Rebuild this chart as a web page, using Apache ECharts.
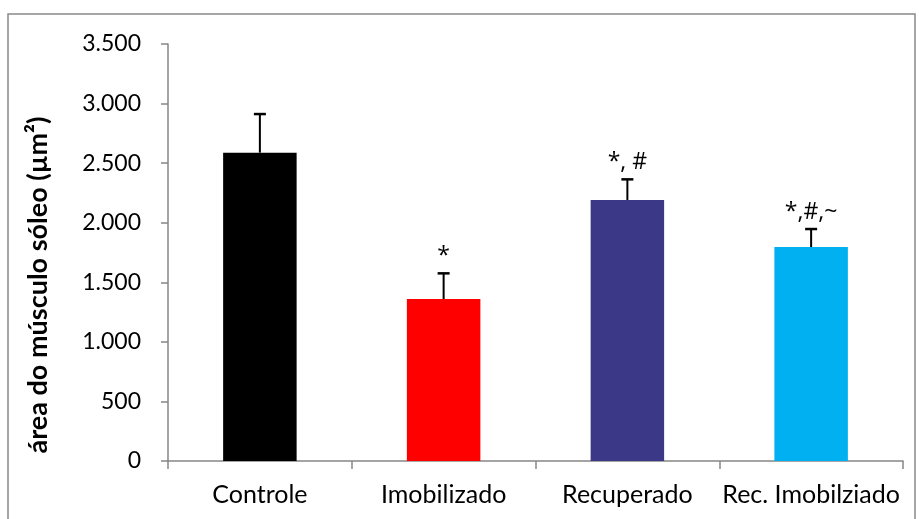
<!DOCTYPE html>
<html><head><meta charset="utf-8">
<script src="https://cdn.jsdelivr.net/npm/echarts@6/dist/echarts.min.js"></script>
<style>html,body{margin:0;padding:0;background:#fff}#c{width:919px;height:519px}</style>
</head><body><div id="c"></div>
<script>
const categories = ['Controle', 'Imobilizado', 'Recuperado', 'Rec. Imobilziado'];
const means = [2588, 1360, 2191, 1796];
const errors = [324, 215, 173, 151];
const annotations = ['', '*', '*, #', '*,#,~'];
const yTicks = [0, 500, 1000, 1500, 2000, 2500, 3000, 3500];
const yTitle = 'área do músculo sóleo (µm²)';
const barColors = ['#000000', '#FF0000', '#3B3887', '#00B0F0'];

const FONT = 'Lato';
const fmt = v => String(v).replace(/\B(?=(\d{3})+(?!\d))/g, '.');

const chart = echarts.init(document.getElementById('c'));
chart.setOption({
  animation: false,
  backgroundColor: '#fff',
  grid: { left: 168, right: 16, top: 44, bottom: 58 },
  xAxis: {
    type: 'category', data: categories, boundaryGap: true,
    axisLine: { lineStyle: { color: '#868686', width: 1.5 } },
    axisTick: { show: true, length: 8, lineStyle: { color: '#868686', width: 1.5 } },
    axisLabel: { color: '#000', fontFamily: FONT, fontSize: 25, margin: 21, interval: 0 }
  },
  yAxis: {
    type: 'value', min: yTicks[0], max: yTicks[yTicks.length - 1], interval: 500,
    splitLine: { show: false },
    axisLine: { show: true, lineStyle: { color: '#868686', width: 1.5 } },
    axisTick: { show: true, length: 7, lineStyle: { color: '#868686', width: 1.5 } },
    axisLabel: { color: '#000', fontFamily: FONT, fontSize: 23, margin: 27, formatter: v => fmt(v) }
  },
  graphic: [
    { type: 'rect', shape: { x: 8, y: 14, width: 907, height: 530 }, style: { fill: 'none', stroke: '#898989', lineWidth: 1.5 }, silent: true },
    { type: 'text', x: 38, y: 285, rotation: Math.PI / 2,
      style: { text: yTitle, fontFamily: FONT, fontWeight: 'bold', fontSize: 27, fill: '#000', align: 'center', verticalAlign: 'middle' } }
  ],
  series: [
    {
      type: 'bar', barWidth: '40%',
      data: means.map((v, i) => ({ value: v, itemStyle: { color: barColors[i] } }))
    },
    {
      type: 'custom',
      data: means.map((v, i) => [i, v, v + errors[i], annotations[i]]),
      renderItem: (params, api) => {
        const i = api.value(0);
        const p0 = api.coord([i, api.value(1)]);
        const p1 = api.coord([i, api.value(2)]);
        const cw = 6;
        const children = [
          { type: 'line', shape: { x1: p0[0], y1: p0[1], x2: p1[0], y2: p1[1] }, style: { stroke: '#000', lineWidth: 2 } },
          { type: 'line', shape: { x1: p1[0] - cw, y1: p1[1], x2: p1[0] + cw, y2: p1[1] }, style: { stroke: '#000', lineWidth: 2.5 } }
        ];
        const t = annotations[params.dataIndex];
        if (t) children.push({ type: 'text', x: p1[0], y: p1[1] - 17,
          style: { text: t, fontFamily: 'Open Sans', fontSize: 23, fill: '#000', align: 'center', verticalAlign: 'middle' } });
        return { type: 'group', children };
      },
      z: 5
    }
  ]
});
</script></body></html>
